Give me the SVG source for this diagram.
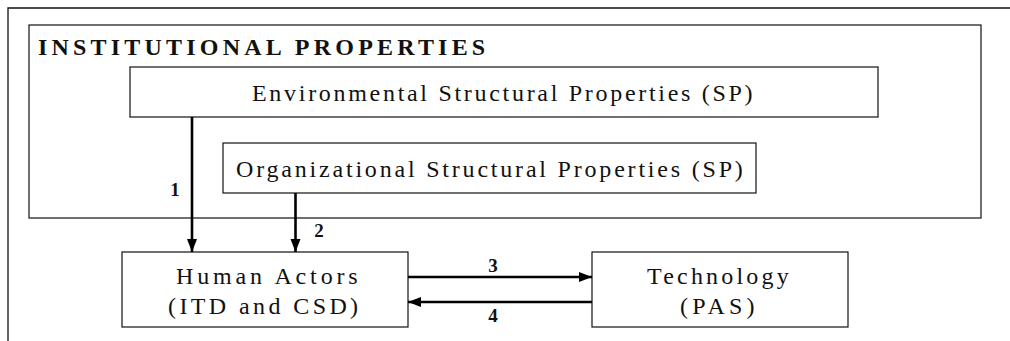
<svg xmlns="http://www.w3.org/2000/svg" width="1010" height="341" viewBox="0 0 1010 341">
  <style>
    .frame { fill: none; stroke: #111; stroke-width: 1.3; }
    .box { fill: #fff; stroke: #111; stroke-width: 1.2; }
    .lbl { font-family: "Liberation Serif", "Times New Roman", serif; font-size: 24px; fill: #111; }
    .title { font-weight: bold; }
    .num { font-family: "Liberation Serif", "Times New Roman", serif; font-size: 19px; font-weight: bold; fill: #111; text-anchor: middle; }
    .arrow { stroke: #000; stroke-width: 2.6; fill: none; marker-end: url(#head); }
  </style>
  <defs>
    <marker id="head" markerUnits="userSpaceOnUse" markerWidth="14" markerHeight="12" refX="13" refY="6" orient="auto">
      <path d="M0,1 L13,6 L0,11 Z" fill="#000"/>
    </marker>
  </defs>
  <rect width="1010" height="341" fill="#fff"/>

  <!-- outer page frame -->
  <path class="frame" d="M8,341 L8,8 L1010,8"/>

  <g id="institutional">
    <rect class="box" x="29" y="25" width="952" height="193"/>
    <text class="lbl title" x="38" y="55" letter-spacing="4.2">INSTITUTIONAL PROPERTIES</text>
  </g>

  <g id="environmental">
    <rect class="box" x="130" y="67" width="748" height="50"/>
    <text class="lbl" x="252" y="101" letter-spacing="2.7">Environmental Structural Properties (SP)</text>
  </g>

  <g id="organizational">
    <rect class="box" x="223" y="143" width="533" height="50"/>
    <text class="lbl" x="236" y="177" letter-spacing="2.8">Organizational Structural Properties (SP)</text>
  </g>

  <g id="human-actors">
    <rect class="box" x="122" y="252" width="286" height="75"/>
    <text class="lbl" x="176" y="284" letter-spacing="3.85">Human Actors</text>
    <text class="lbl" x="168" y="314" letter-spacing="3.4">(ITD and CSD)</text>
  </g>

  <g id="technology">
    <rect class="box" x="592" y="252" width="256" height="75"/>
    <text class="lbl" x="647" y="284" letter-spacing="3.2">Technology</text>
    <text class="lbl" x="680" y="314" letter-spacing="4.2">(PAS)</text>
  </g>

  <g id="connectors">
    <line class="arrow" x1="192" y1="117" x2="192" y2="252"/>
    <line class="arrow" x1="295.5" y1="193" x2="295.5" y2="252"/>
    <line class="arrow" x1="408" y1="277" x2="592" y2="277"/>
    <line class="arrow" x1="592" y1="302" x2="408" y2="302"/>
    <text class="num" x="175" y="196">1</text>
    <text class="num" x="319" y="237">2</text>
    <text class="num" x="493" y="272">3</text>
    <text class="num" x="493" y="322">4</text>
  </g>
</svg>
